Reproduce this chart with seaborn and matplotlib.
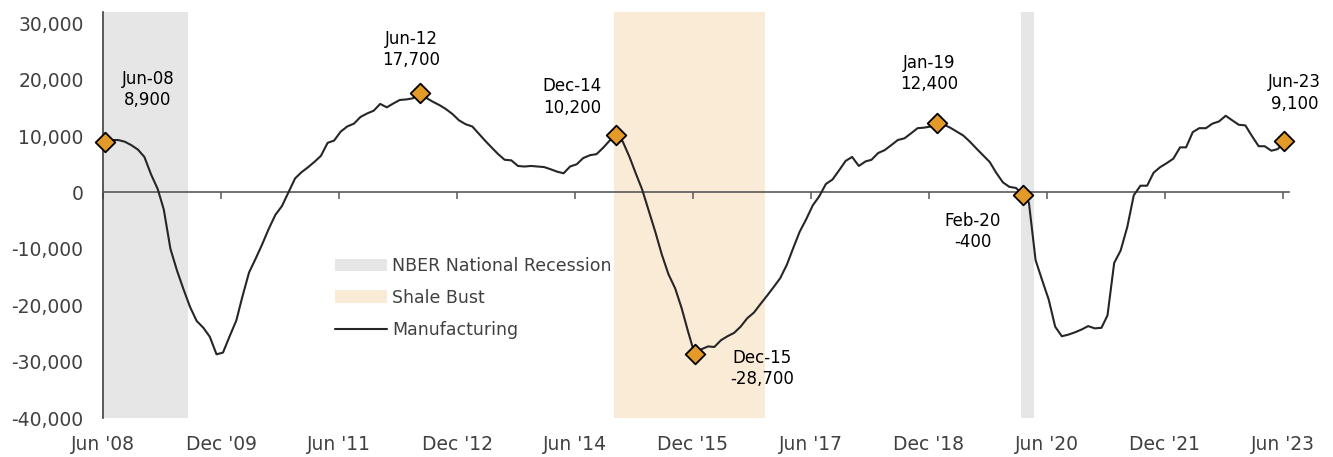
import matplotlib
matplotlib.use("Agg")
import matplotlib.pyplot as plt
from matplotlib.patches import Patch
from matplotlib.lines import Line2D
import seaborn as sns
import pandas as pd
import numpy as np

# monthly change in manufacturing jobs, Jun 2008 - Jun 2023
manufacturing = [
    8900, 9300, 9300, 9000, 8400, 7600, 6300, 3200, 600, -3000, -10000, -13800,
    -17200, -20300, -22800, -24000, -25600, -28700, -28400, -25500, -22700, -18500, -14200, -11800,
    -9200, -6500, -4000, -2400, 0, 2500, 3600, 4500, 5500, 6500, 8800, 9200,
    10800, 11700, 12200, 13400, 14000, 14500, 15700, 15100, 15800, 16400, 16500, 16700,
    17700, 16800, 16100, 15500, 14800, 13900, 12800, 12100, 11700, 10500, 9200, 8000,
    6800, 5800, 5700, 4700, 4600, 4700, 4600, 4500, 4100, 3700, 3400, 4600,
    5000, 6100, 6600, 6800, 7900, 9200, 10200, 9000, 6300, 3500, 500, -3200,
    -7000, -11000, -14500, -17000, -20500, -24800, -28700, -27800, -27300, -27400, -26200, -25500,
    -24900, -23800, -22300, -21300, -19800, -18300, -16800, -15200, -12800, -10000, -7000, -4800,
    -2300, -700, 1500, 2300, 3900, 5600, 6300, 4700, 5500, 5800, 7000, 7500,
    8400, 9300, 9600, 10500, 11400, 11500, 11700, 12400, 12000, 11500, 10800, 10100,
    9000, 7800, 6600, 5400, 3500, 1800, 1000, 800, -400, -1800, -12000, -15500,
    -19000, -23800, -25500, -25200, -24800, -24300, -23700, -24100, -24000, -21800, -12500, -10300,
    -6100, -500, 1200, 1200, 3500, 4500, 5200, 6000, 8000, 8000, 10700, 11400,
    11400, 12200, 12600, 13600, 12800, 12000, 11900, 10000, 8200, 8200, 7400, 7700,
    9100,
]
start_month = "2008-06-01"

highlight_months = ["2008-06", "2012-06", "2014-12", "2015-12", "2019-01", "2020-02", "2023-06"]
highlight_labels = ["Jun-08", "Jun-12", "Dec-14", "Dec-15", "Jan-19", "Feb-20", "Jun-23"]

recessions = [("2008-06-01", "2009-07-01"), ("2020-02-01", "2020-04-01")]
shale_bust = ("2014-12-01", "2016-11-01")

tick_dates = pd.date_range("2008-06-01", "2023-06-01", freq="18MS")
tick_labels = [d.strftime("%b '%y") for d in tick_dates]

# ---------------------------------------------------------------
dates = pd.date_range(start_month, periods=len(manufacturing), freq="MS") + pd.Timedelta(days=9)
df = pd.DataFrame({"date": dates, "value": manufacturing})
df["month"] = df["date"].dt.strftime("%Y-%m")
hl = df[df["month"].isin(highlight_months)].reset_index(drop=True)

sns.set_style("white")
plt.rcParams["font.family"] = ["DejaVu Sans"]

fig = plt.figure(figsize=(13.33, 4.57), dpi=100)
ax = fig.add_axes([0.0773, 0.0853, 0.8897, 0.8884])

gray = "#E6E6E6"
tan = "#FAEBD7"
for a, b in recessions:
    ax.axvspan(pd.Timestamp(a), pd.Timestamp(b), color=gray, lw=0, zorder=0)
ax.axvspan(pd.Timestamp(shale_bust[0]), pd.Timestamp(shale_bust[1]), color=tan, lw=0, zorder=0)

sns.lineplot(data=df, x="date", y="value", ax=ax, color="#262626", lw=1.5, zorder=3)
sns.scatterplot(data=hl, x="date", y="value", ax=ax, marker="D", s=100,
                color="#E39A28", edgecolor="black", linewidth=1.3, zorder=5, clip_on=False)

offsets = [(43, 53), (-8, 43), (-44, 38), (67, -14), (-8, 49), (-50, -37), (10, 48)]
for i, row in hl.iterrows():
    ax.annotate(f"{highlight_labels[i]}\n{row['value']:,.0f}", xy=(row["date"], row["value"]),
                xytext=offsets[i], textcoords="offset pixels", ha="center", va="center",
                fontsize=12, color="black", linespacing=1.25)

ax.set_xlim(pd.Timestamp("2008-06-01"), pd.Timestamp("2023-07-01"))
ax.set_ylim(-40000, 32000)
ax.set_yticks(np.arange(-40000, 30001, 10000))
ax.yaxis.set_major_formatter(matplotlib.ticker.FuncFormatter(lambda v, p: f"{v:,.0f}"))
ax.tick_params(axis="y", left=False, length=0, pad=14, labelsize=13.5, labelcolor="#404040")

ax.set_xticks(tick_dates)
ax.tick_params(axis="x", bottom=True, direction="out", length=5, width=1.1,
               color="#595959", labelbottom=False)
ax.spines["bottom"].set_position(("data", 0))
ax.spines["bottom"].set_color("#595959")
ax.spines["bottom"].set_linewidth(1.2)
ax.spines["left"].set_color("#404040")
ax.spines["left"].set_linewidth(1.2)
ax.spines["top"].set_visible(False)
ax.spines["right"].set_visible(False)
ax.set_xlabel("")
ax.set_ylabel("")

sec = ax.secondary_xaxis("bottom")
sec.set_xticks(tick_dates, labels=tick_labels)
sec.tick_params(length=0, pad=12, labelsize=13.5, labelcolor="#404040")
sec.spines["bottom"].set_visible(False)

handles = [Patch(facecolor=gray, edgecolor="none"),
           Patch(facecolor=tan, edgecolor="none"),
           Line2D([0], [0], color="#262626", lw=1.5)]
leg = ax.legend(handles, ["NBER National Recession", "Shale Bust", "Manufacturing"],
                loc="center left", bbox_to_anchor=(0.1956, 0.296), frameon=False,
                fontsize=12.5, handlelength=3.0, handleheight=0.75, handletextpad=0.3,
                labelspacing=0.8, borderpad=0, borderaxespad=0)
for t in leg.get_texts():
    t.set_color("#404040")

plt.savefig("out.png", dpi=100)
